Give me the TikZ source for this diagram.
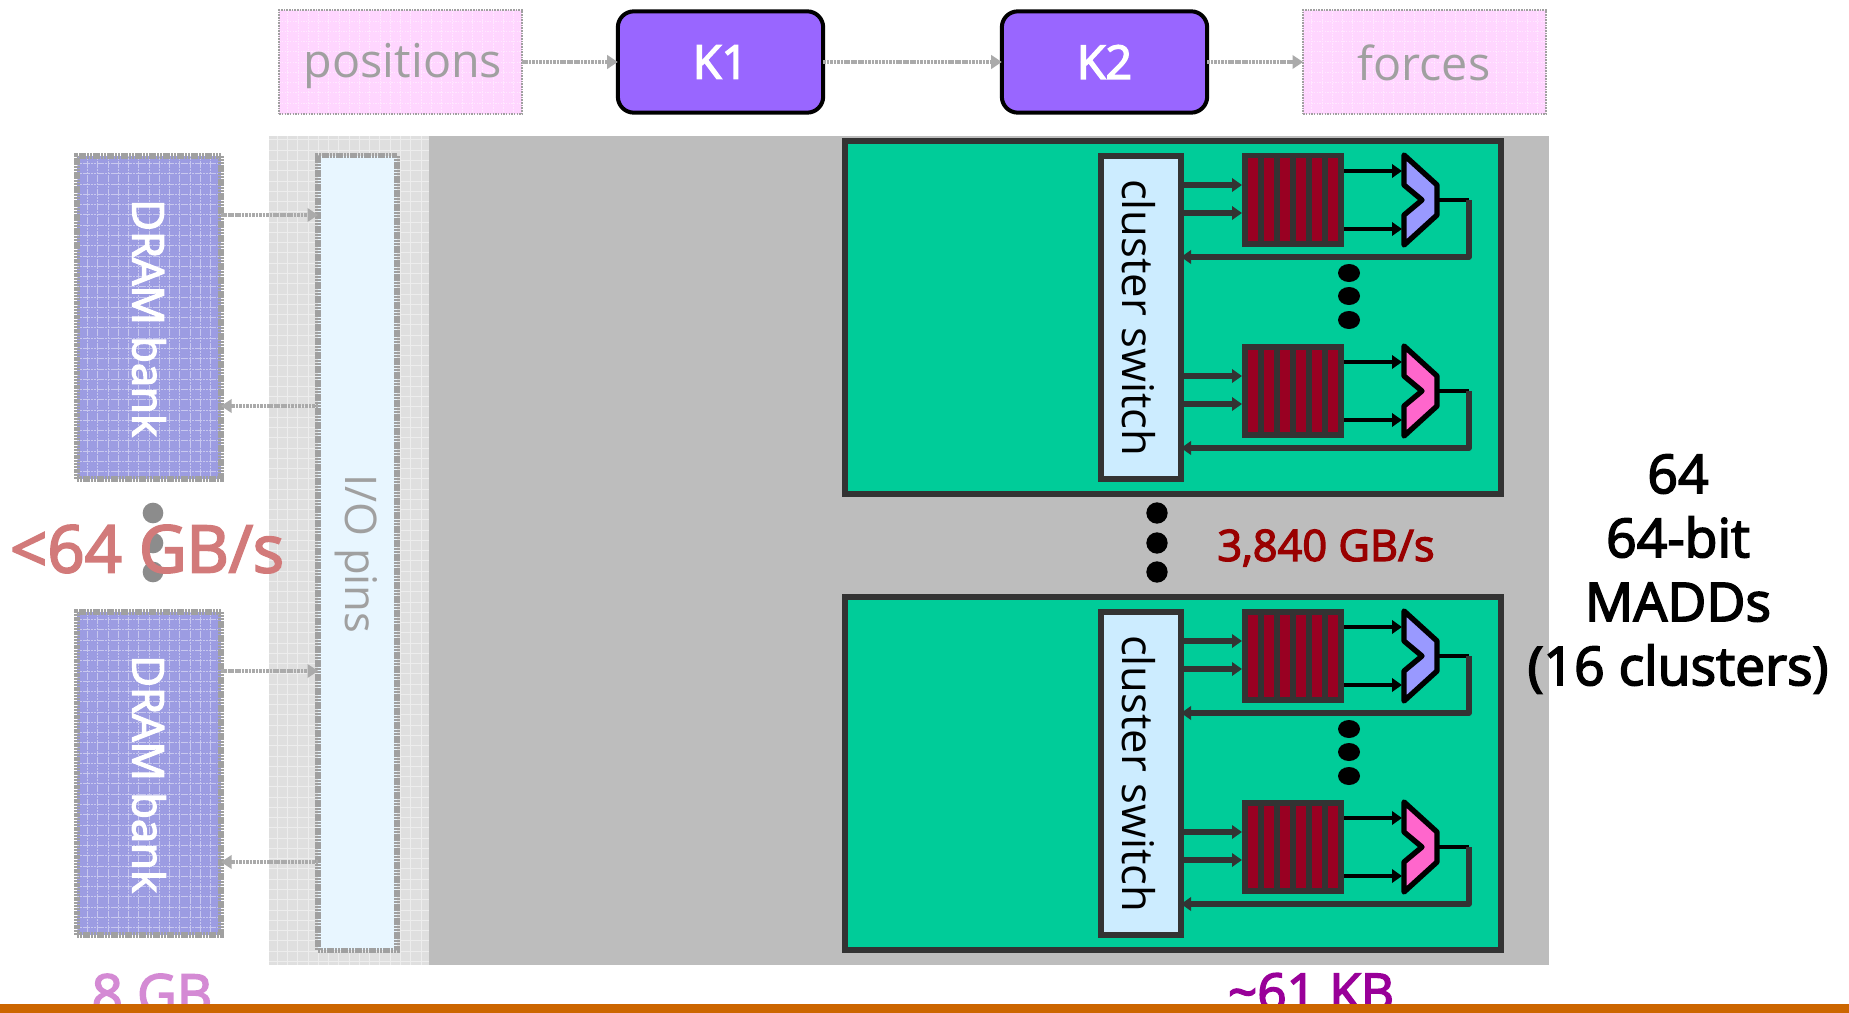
\documentclass[tikz,border=0pt]{standalone}
\usepackage{fontspec}
\setmainfont{Open Sans}
\newfontfamily\medfont[FakeBold=3]{Open Sans}
\usetikzlibrary{arrows.meta}
\definecolor{ghostline}{HTML}{A0A0A0}
\definecolor{darkline}{HTML}{333333}
\definecolor{chipgray}{HTML}{BDBDBD}
\definecolor{iobg}{HTML}{DFDFDF}
\definecolor{iofill}{HTML}{E8F6FF}
\definecolor{dramfill}{HTML}{9C9CE2}
\definecolor{pinkfill}{HTML}{FFD6FF}
\definecolor{kfill}{HTML}{9966FF}
\definecolor{clustergreen}{HTML}{00CC99}
\definecolor{switchfill}{HTML}{CCECFF}
\definecolor{regred}{HTML}{990022}
\definecolor{muxblue}{HTML}{9999FF}
\definecolor{muxpink}{HTML}{FF66CC}
\definecolor{fadedred}{HTML}{D27A7A}
\definecolor{fadedpurple}{HTML}{D48AD4}
\definecolor{deepred}{HTML}{990000}
\definecolor{deeppurple}{HTML}{990099}
\definecolor{barorange}{HTML}{CC6600}
\tikzset{
  x=0.75pt,y=-0.75pt,
  box/.style={draw,rectangle,inner sep=0pt,outer sep=0pt},
  dither/.style={path picture={\draw[white,opacity=.45,line width=.5pt,xstep=7.7pt,ystep=7.7pt] (path picture bounding box.south west) grid (path picture bounding box.north east);}},
  ghostbox/.style={box,draw=ghostline,line width=4.2pt,dash pattern=on 1.6pt off .5pt},
  databox/.style={box,draw=ghostline,fill=pinkfill,line width=1.6pt,dash pattern=on 1.2pt off 0.8pt,dither},
  kbox/.style={box,draw=black,fill=kfill,line width=3pt,rounded corners=12pt,text=white,font=\fontsize{35}{36}\medfont},
  ghosttext/.style={inner sep=0pt,text=ghostline,font=\fontsize{35}{36}\selectfont},
  ghostarrow/.style={draw=ghostline!90,line width=3.6pt,dash pattern=on 2pt off .6pt,-{Triangle[length=8pt,width=10pt]}},
  darkarrow/.style={draw=darkline,line width=4.2pt,-{Triangle[length=7.5pt,width=10pt]}},
  blackarrow/.style={draw=black,line width=3.7pt,-{Triangle[length=7.5pt,width=10pt]}},
  darkbox/.style={box,draw=darkline,line width=4.5pt},
  vtext/.style={rotate=-90,inner sep=0pt,font=\fontsize{32.7}{34}\selectfont},
  bigtext/.style={inner sep=0pt,font=\fontsize{32.5}{40}\medfont},
  dot/.style={circle,fill=black,inner sep=0pt,minimum size=16pt},
  muxshape/.style={draw=black,line width=4pt,line join=round},
}
% #1 vertical offset, #2 name, #3 fill of the unit
\newcommand{\aluunit}[3]{%
  \begin{scope}[shift={(0,#1)}]
    \node[box,draw=none,fill=darkline,minimum width=76.5pt,minimum height=70.5pt] (#2-reg) at (1293,200) {};
    \foreach \xs in {1247.7,1263.7,1279.7,1295.7,1311.7,1327.7}
      \fill[regred] (\xs,158.5) rectangle ++(10.3,82.5);
    \draw[muxshape,fill=#3] (1404,155) -- (1437,185) -- (1437,215) -- (1404,245) -- (1404,215) -- (1422,200) -- (1404,185) -- cycle;
    \coordinate (#2-ma) at (1402,171);
    \coordinate (#2-mb) at (1402,229);
    \coordinate (#2-mo) at (1437,200);
    \coordinate (#2-turn) at (1469,200);
    \coordinate (#2-corner) at (1469,257);
    \draw[darkarrow] (#2-sw.east |- 0,185) -- (#2-reg.west |- 0,185);
    \draw[darkarrow] (#2-sw.east |- 0,213) -- (#2-reg.west |- 0,213);
    \draw[blackarrow] (#2-reg.east |- #2-ma) -- (#2-ma);
    \draw[blackarrow] (#2-reg.east |- #2-mb) -- (#2-mb);
    \draw[black,line width=3.7pt] (#2-mo) -- (#2-turn);
    \draw[darkarrow,line join=round] (#2-turn) -- (#2-corner) -- (#2-sw.east |- #2-corner);
  \end{scope}
}
\newcommand{\clusterunit}[2]{%
  \begin{scope}[shift={(0,#1)}]
    \node[box,draw=darkline,fill=clustergreen,line width=4.5pt,minimum width=492pt,minimum height=264.7pt] (#2-cl) at (1173,317.5) {};
    \node[darkbox,fill=switchfill,minimum width=60pt,minimum height=242.5pt] (#2a-sw) at (1141,317.5) {};
    \node[box,draw=none,fill=none,minimum width=60pt,minimum height=242.5pt] (#2b-sw) at (1141,317.5) {};
    \node[vtext] (#2-swt) at (1139,317.5) {cluster switch};
    \aluunit{0}{#2a}{muxblue}
    \aluunit{191}{#2b}{muxpink}
    \foreach \yy in {273,296,320}
      \fill[black] (1349,\yy) ellipse [x radius=11,y radius=9];
  \end{scope}
}
\begin{document}
\begin{tikzpicture}
\clip (0,0) rectangle (1849,1013);
\fill[white] (0,0) rectangle (1849,1013);
% top row
\node[databox,minimum width=182pt,minimum height=78.5pt] (pos) at (400.5,62) {};
\node[ghosttext] (post) at (403,66) {positions};
\node[kbox,minimum width=154pt,minimum height=76pt] (k1) at (720.5,62) {K1};
\node[kbox,minimum width=154pt,minimum height=76pt] (k2) at (1104.5,62) {K2};
\node[databox,minimum width=182pt,minimum height=78.5pt] (frc) at (1424.5,62) {};
\node[ghosttext] (frct) at (1424,63) {forces};
\draw[ghostarrow] (pos) -- (k1);
\draw[ghostarrow] (k1) -- (k2);
\draw[ghostarrow] (k2) -- (frc);
% chip background
\node[box,draw=none,fill=iobg,dither,minimum width=120pt,minimum height=621.75pt] (iob) at (349,550.5) {};
\node[box,draw=none,fill=chipgray,minimum width=840pt,minimum height=621.75pt] (chip) at (989,550.5) {};
% I/O pins
\node[ghostbox,fill=iofill,minimum width=59pt,minimum height=596pt] (io) at (357.5,553) {};
\node[vtext,text=ghostline] (iot) at (356,554) {I/O pins};
% DRAM
\node[ghostbox,fill=dramfill,dither,minimum width=108pt,minimum height=242.5pt] (d1) at (149,317.5) {};
\node[vtext,text=white,font=\fontsize{32.7}{34}\medfont] (d1t) at (149,318) {DRAM bank};
\node[ghostbox,fill=dramfill,dither,minimum width=108pt,minimum height=242.5pt] (d2) at (149,773.5) {};
\node[vtext,text=white,font=\fontsize{32.7}{34}\medfont] (d2t) at (149,774) {DRAM bank};
\draw[ghostarrow] (d1.east |- 0,215) -- (io.west |- 0,215);
\draw[ghostarrow] (io.west |- 0,406) -- (d1.east |- 0,406);
\draw[ghostarrow] (d2.east |- 0,671) -- (io.west |- 0,671);
\draw[ghostarrow] (io.west |- 0,862) -- (d2.east |- 0,862);
% gray dots
\node[dot,fill=gray!90,minimum size=15.5pt] (g1) at (153,513) {};
\node[dot,fill=gray!90,minimum size=15.5pt] (g2) at (153,543) {};
\node[dot,fill=gray!90,minimum size=15.5pt] (g3) at (153,572) {};
% clusters
\clusterunit{0}{c1}
\clusterunit{456}{c2}
% dots between clusters
\node[dot] (m1) at (1157,513) {};
\node[dot] (m2) at (1157,543) {};
\node[dot] (m3) at (1157,572) {};
% labels
\node[bigtext,text=deepred] (bw) at (1326,548) {3,840 GB/s};
\node[bigtext,text=fadedred,font=\fontsize{49}{54}\medfont] (ext) at (147,549) {<64 GB/s};
\node[bigtext,text=deeppurple,font=\fontsize{38.5}{44}\medfont] (kb) at (1311,992) {\textasciitilde 61 KB};
\node[bigtext,text=fadedpurple,font=\fontsize{41}{44}\medfont] (gb) at (152,994) {8 GB};
\node[bigtext,align=center,text=black,font=\fontsize{40.2}{48}\medfont] (madd) at (1678,574) {64\\64-bit\\MADDs\\(16 clusters)};
\fill[barorange] (0,1004) rectangle (1849,1013);
\end{tikzpicture}
\end{document}
